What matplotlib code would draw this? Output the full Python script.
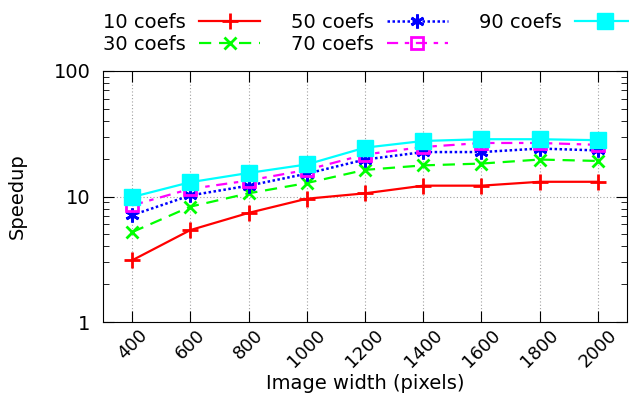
import matplotlib
matplotlib.use("Agg")
import matplotlib.pyplot as plt
from matplotlib.ticker import LogLocator, NullFormatter, FixedLocator

widths = [400, 600, 800, 1000, 1200, 1400, 1600, 1800, 2000]

speed_10 = [3.1, 5.4, 7.4, 9.6, 10.6, 12.2, 12.2, 13.1, 13.1]
speed_30 = [5.2, 8.3, 10.6, 12.8, 16.3, 17.7, 18.3, 19.7, 19.2]
speed_50 = [7.1, 10.2, 12.2, 15.2, 19.7, 22.6, 22.6, 24.1, 23.3]
speed_70 = [8.5, 11.5, 13.4, 16.3, 21.6, 24.8, 26.7, 26.7, 25.8]
speed_90 = [9.9, 13.0, 15.4, 18.0, 24.5, 27.7, 28.6, 28.6, 28.1]

labels = ["10 coefs", "30 coefs", "50 coefs", "70 coefs", "90 coefs"]

plt.rcParams['font.family'] = 'DejaVu Sans'
plt.rcParams['font.size'] = 14

fig = plt.figure(figsize=(6.29, 3.95), dpi=100)
ax = fig.add_axes([103 / 629, 1 - 322 / 395, (627 - 103) / 629, (322 - 71) / 395])

ax.plot(widths, speed_10, color='red', ls='-', lw=1.6, marker='+', ms=11, mew=2, label=labels[0])
ax.plot(widths, speed_30, color='#00ff00', ls=(0, (5.5, 3.5)), lw=1.6, marker='x', ms=9, mew=2, label=labels[1])
ax.plot(widths, speed_50, color='blue', ls=(0, (1, 1)), lw=1.8, marker=(6, 2, 0), ms=10, mew=2, label=labels[2])
ax.plot(widths, speed_70, color='magenta', ls=(0, (5, 3, 2, 3)), lw=1.6, marker='s', ms=8, mew=2,
        mfc='none', label=labels[3])
ax.plot(widths, speed_90, color='cyan', ls='-', lw=1.6, marker='s', ms=11, label=labels[4])

ax.set_yscale('log')
ax.set_ylim(1, 100)
ax.set_xlim(300, 2100)
ax.set_xticks(widths)
ax.set_xticklabels([str(w) for w in widths], rotation=45, ha='center', fontsize=13)
ax.yaxis.set_major_locator(FixedLocator([1, 10, 100]))
ax.set_yticklabels(['1', '10', '100'])
ax.yaxis.set_minor_locator(LogLocator(base=10, subs=range(2, 10)))
ax.yaxis.set_minor_formatter(NullFormatter())

ax.tick_params(which='both', direction='in', top=True, right=True)
ax.tick_params(which='major', length=8)
ax.tick_params(which='minor', length=4.5)
ax.tick_params(axis='x', pad=3)
ax.tick_params(axis='y', pad=9)
ax.grid(True, which='major', color='#a0a0a0', ls=(0, (1, 2)), lw=0.8)

ax.set_xlabel('Image width (pixels)')
ax.xaxis.set_label_coords(0.5, -0.207)
ax.set_ylabel('Speedup', labelpad=19.5)

fig.legend(loc='upper left', bbox_to_anchor=(103 / 629, 1 - 13 / 395), ncol=3, frameon=False,
           markerfirst=False, handlelength=3.1, columnspacing=1.6, labelspacing=0.15,
           handletextpad=0.7, borderpad=0, borderaxespad=0)

fig.savefig('out.png', dpi=100)
